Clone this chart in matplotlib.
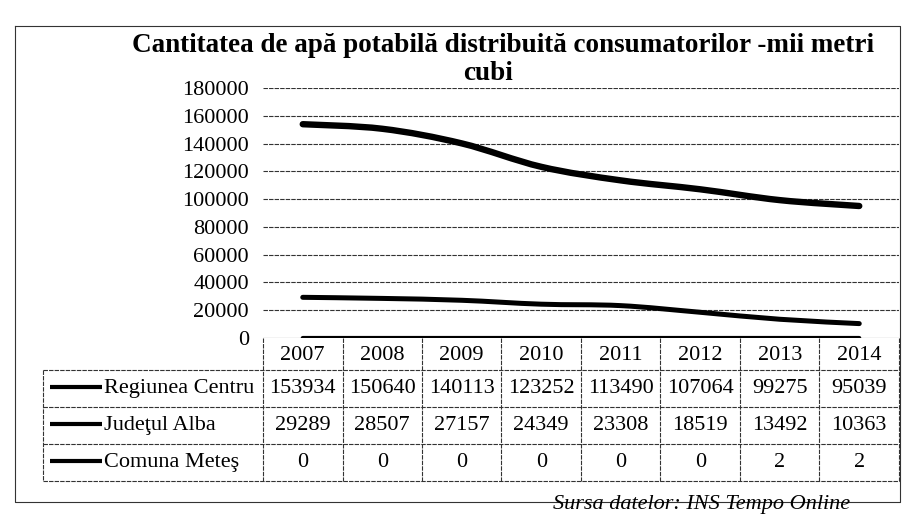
import matplotlib
matplotlib.use("Agg")
import matplotlib.pyplot as plt
from matplotlib.path import Path
from matplotlib.patches import PathPatch
from matplotlib.lines import Line2D
import numpy as np

years = ["2007", "2008", "2009", "2010", "2011", "2012", "2013", "2014"]
regiunea_centru = [153934, 150640, 140113, 123252, 113490, 107064, 99275, 95039]
judetul_alba = [29289, 28507, 27157, 24349, 23308, 18519, 13492, 10363]
comuna_metes = [0, 0, 0, 0, 0, 0, 2, 2]
series_names = ["Regiunea Centru", "Judeţul Alba", "Comuna Meteş"]
yticks = [0, 20000, 40000, 60000, 80000, 100000, 120000, 140000, 160000, 180000]
title_line1 = "Cantitatea de apă potabilă distribuită consumatorilor -mii metri"
title_line2 = "cubi"
source = "Sursa datelor: INS Tempo Online"

plt.rcParams['font.family'] = ['Liberation Serif', 'DejaVu Serif']

W, H = 903, 519
fig = plt.figure(figsize=(W / 100, H / 100), dpi=100)

def fx(px):
    return px / W

def fy(py):
    return 1 - py / H

FS = 16

# plot area in pixels
ax_left, ax_right, ax_top, ax_bottom = 263, 899, 88, 338
ax = fig.add_axes([fx(ax_left), fy(ax_bottom), fx(ax_right) - fx(ax_left), fy(ax_top) - fy(ax_bottom)])
ax.set_xlim(-0.5, len(years) - 0.5)
ax.set_ylim(0, 180000)
for s in ax.spines.values():
    s.set_visible(False)
ax.set_yticks(yticks)
ax.set_yticklabels([str(v) for v in yticks], fontsize=FS)
ax.tick_params(axis='y', length=0, pad=10)
ax.set_xticks([])
for v in yticks[1:]:
    ax.axhline(v, color='#333333', lw=0.8, ls=(0, (4, 1)), zorder=1)
ax.axhline(0, color='#333333', lw=0.8, zorder=1)

def smooth_path(xs, ys):
    P = np.column_stack([xs, ys]).astype(float)
    n = len(P)
    verts = [P[0]]
    codes = [Path.MOVETO]
    for i in range(n - 1):
        p0 = P[i - 1] if i > 0 else P[i]
        p1 = P[i]
        p2 = P[i + 1]
        p3 = P[i + 2] if i + 2 < n else P[i + 1]
        c1 = p1 + (p2 - p0) / 6.0
        c2 = p2 - (p3 - p1) / 6.0
        verts += [c1, c2, p2]
        codes += [Path.CURVE4] * 3
    return Path(verts, codes)

xs = np.arange(len(years))
series = [regiunea_centru, judetul_alba, comuna_metes]
widths = [4.6, 3.6, 3.0]
for vals, lw in zip(series, widths):
    patch = PathPatch(smooth_path(xs, vals), fill=False, edgecolor='black', lw=lw,
                      capstyle='round', joinstyle='round', zorder=3)
    ax.add_patch(patch)

# data table
row_lines = [338, 370, 407, 444, 481]
leg_left = 43
col_w = (ax_right - ax_left) / len(years)
grid_kw = dict(color='#333333', lw=0.8, ls=(0, (4, 1)))

def add_line(xp, yp, **kw):
    fig.add_artist(Line2D([fx(x) for x in xp], [fy(y) for y in yp], transform=fig.transFigure, **kw))

for y in row_lines[1:]:
    add_line([leg_left, ax_right], [y, y], **grid_kw)
for i in range(len(years) + 1):
    x = ax_left + i * col_w
    add_line([x, x], [row_lines[0], row_lines[-1]], **grid_kw)
add_line([leg_left, leg_left], [row_lines[1], row_lines[-1]], **grid_kw)

for i, yr in enumerate(years):
    cx = ax_left + (i + 0.5) * col_w
    fig.text(fx(cx), fy((row_lines[0] + row_lines[1]) / 2 + 2), yr, ha='center', va='center', fontsize=FS)

for r, (name, vals) in enumerate(zip(series_names, series)):
    cy = (row_lines[r + 1] + row_lines[r + 2]) / 2
    add_line([50, 102], [cy - 2, cy - 2], color='black', lw=3, solid_capstyle='butt')
    fig.text(fx(104), fy(cy), name, ha='left', va='center', fontsize=FS)
    for i, v in enumerate(vals):
        cx = ax_left + (i + 0.5) * col_w
        fig.text(fx(cx), fy(cy), str(v), ha='center', va='center', fontsize=FS)

# outer frame
add_line([15, 900, 900, 15, 15], [26, 26, 502, 502, 26], color='#333333', lw=0.8)

fig.text(fx(503), fy(45), title_line1, ha='center', va='center', fontsize=19.5, fontweight='bold')
fig.text(fx(488), fy(74), title_line2, ha='center', va='center', fontsize=19.5, fontweight='bold')

fig.text(fx(850), fy(505), source, ha='right', va='center', fontsize=16, style='italic')

fig.savefig("out.png", dpi=100)
